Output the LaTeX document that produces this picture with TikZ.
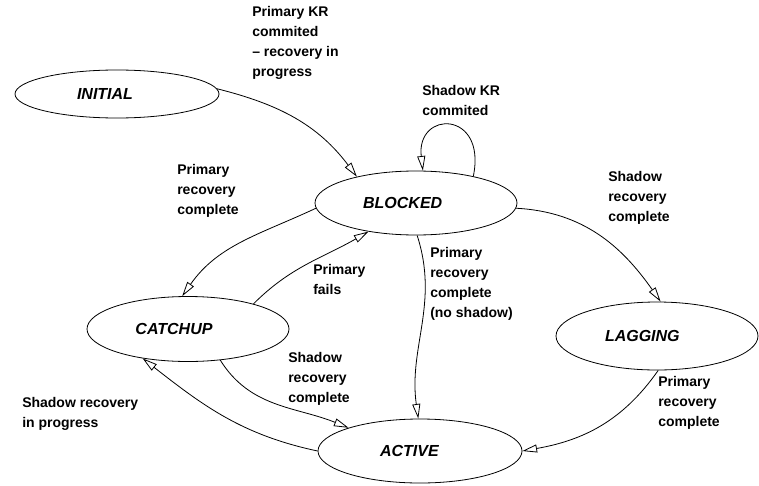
\documentclass[tikz,border=0pt]{standalone}
\usepackage{fontspec}
\setmainfont{Liberation Sans}
\usetikzlibrary{shapes.geometric,arrows.meta}
\begin{document}
\begin{tikzpicture}[x=0.75pt,y=-0.75pt,
  state/.style={draw, ellipse, inner sep=0pt, line width=0.6pt,
    minimum width=151.5pt, minimum height=48pt,
    font=\fontsize{12}{14}\selectfont\bfseries\itshape},
  lbl/.style={anchor=north west, inner sep=0pt, align=left,
    font=\fontsize{10.5}{15}\selectfont\bfseries},
  tr/.style={draw, line width=0.6pt,
    -{Triangle[open, length=11pt, width=6pt]}}
]
\useasboundingbox (0,0) rectangle (759,485);

\node[state, minimum width=153pt, minimum height=36pt] (initial) at (117,94) {\hspace*{-18pt}INITIAL};
\node[state] (blocked) at (416,203) {\hspace*{-20pt}BLOCKED};
\node[state, minimum height=48.75pt] (catchup) at (188,329) {\hspace*{-21pt}CATCHUP};
\node[state, minimum height=51pt] (lagging) at (657,336) {\hspace*{-22pt}LAGGING};
\node[state, minimum width=153pt] (active) at (420,451) {\hspace*{-16pt}ACTIVE};

\node[lbl] (l1) at (252,6) {Primary KR\\commited\\– recovery in\\progress};
\node[lbl] (l2) at (422,85) {Shadow KR\\commited};
\node[lbl] (l3) at (177,164) {Primary\\recovery\\complete};
\node[lbl] (l4) at (608,171) {Shadow\\recovery\\complete};
\node[lbl] (l5) at (313,264) {Primary\\fails};
\node[lbl] (l6) at (430,247) {Primary\\recovery\\complete\\(no shadow)};
\node[lbl] (l7) at (288,352) {Shadow\\recovery\\complete};
\node[lbl] (l8) at (22,397) {Shadow recovery\\in progress};
\node[lbl] (l9) at (658,376) {Primary\\recovery\\complete};

\draw[tr] (initial.3) to[out=-14, in=127] (blocked.156);
\draw[tr] (blocked.25) .. controls (487,110) and (416,110) .. (blocked.78);
\draw[tr] (blocked.-3) to[out=-3, in=125] (lagging.84);
\draw[tr] (blocked.183) to[out=205, in=55] (catchup.100);
\draw[tr] (catchup.21) to[out=45, in=210] (blocked.211);
\draw[tr] (blocked.-88) to[out=-72, in=98] (active.93);
\draw[tr] (catchup.-44) to[out=-58, in=158] (active.162);
\draw[tr] (active.180) to[out=168, in=-38] (catchup.213);
\draw[tr] (lagging.-88) to[out=235, in=10] (active.0);
\end{tikzpicture}
\end{document}
